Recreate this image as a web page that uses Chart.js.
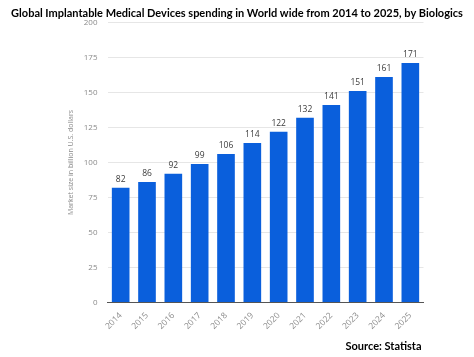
<!DOCTYPE html>
<html>
<head>
<meta charset="utf-8">
<script src="https://cdn.jsdelivr.net/npm/chart.js@4.4.1/dist/chart.umd.min.js"></script>
<style>
  html, body { margin: 0; padding: 0; background: #ffffff; }
  #wrap { width: 474px; height: 357px; }
</style>
</head>
<body>
<div id="wrap"><canvas id="c" width="474" height="357"></canvas></div>
<script>
const titleText = 'Global Implantable Medical Devices spending in World wide from 2014 to 2025, by Biologics';
const sourceText = 'Source: Statista';
const yAxisTitle = 'Market size in billion U.S. dollars';
const years = ['2014','2015','2016','2017','2018','2019','2020','2021','2022','2023','2024','2025'];
const spending = [82, 86, 92, 99, 106, 114, 122, 132, 141, 151, 161, 171];

const valueLabels = {
  id: 'valueLabels',
  afterDatasetsDraw(chart) {
    const ctx = chart.ctx;
    const meta = chart.getDatasetMeta(0);
    ctx.save();
    ctx.font = '8.5px "Open Sans"';
    ctx.fillStyle = '#3a3a3a';
    ctx.textAlign = 'center';
    ctx.textBaseline = 'bottom';
    meta.data.forEach((bar, i) => {
      ctx.fillText(String(spending[i]), bar.x, bar.y - 4);
    });
    ctx.restore();
  }
};

const sourceNote = {
  id: 'sourceNote',
  afterDraw(chart) {
    const ctx = chart.ctx;
    ctx.save();
    ctx.font = 'bold 11px Lato';
    ctx.fillStyle = '#000000';
    ctx.textAlign = 'right';
    ctx.textBaseline = 'middle';
    ctx.fillText(sourceText, chart.chartArea.right - 2, chart.chartArea.bottom + 43.5);
    ctx.restore();
  }
};

new Chart(document.getElementById('c'), {
  type: 'bar',
  data: {
    labels: years,
    datasets: [{
      data: spending,
      backgroundColor: '#0a5fdc',
      borderWidth: 0,
      categoryPercentage: 1,
      barPercentage: 0.67
    }]
  },
  options: {
    responsive: false,
    devicePixelRatio: 1,
    animation: false,
    layout: { padding: 0 },
    plugins: {
      legend: { display: false },
      tooltip: { enabled: false },
      title: {
        display: true,
        text: titleText,
        color: '#000000',
        font: { family: 'Lato', weight: 'bold', size: 11, lineHeight: 1.2 },
        padding: { top: 6.9, bottom: 2.4 }
      }
    },
    scales: {
      x: {
        grid: { display: false, drawTicks: false },
        border: { display: true, color: '#555555', width: 1 },
        ticks: {
          color: '#8a8a8a',
          font: { family: 'Open Sans', size: 8.5 },
          minRotation: 45,
          maxRotation: 45,
          padding: 8,
          autoSkip: false
        },
        afterFit(scale) { scale.height = 54.5; }
      },
      y: {
        min: 0,
        max: 200,
        grid: { color: '#e6e6e6', lineWidth: 1, drawTicks: false },
        border: { display: false },
        ticks: {
          stepSize: 25,
          color: '#8a8a8a',
          font: { family: 'Open Sans', size: 8 },
          padding: 10
        },
        title: {
          display: true,
          text: yAxisTitle,
          color: '#8a8a8a',
          font: { family: 'Open Sans', size: 7, lineHeight: 1.2 },
          padding: { top: 66.8, bottom: 0 }
        },
        afterFit(scale) { scale.width = 107.5; }
      },
      yRight: {
        position: 'right',
        min: 0,
        max: 200,
        grid: { display: false, drawTicks: false },
        border: { display: false },
        ticks: { display: false },
        afterFit(scale) { scale.width = 50.5; }
      }
    }
  },
  plugins: [valueLabels, sourceNote]
});
</script>
</body>
</html>
